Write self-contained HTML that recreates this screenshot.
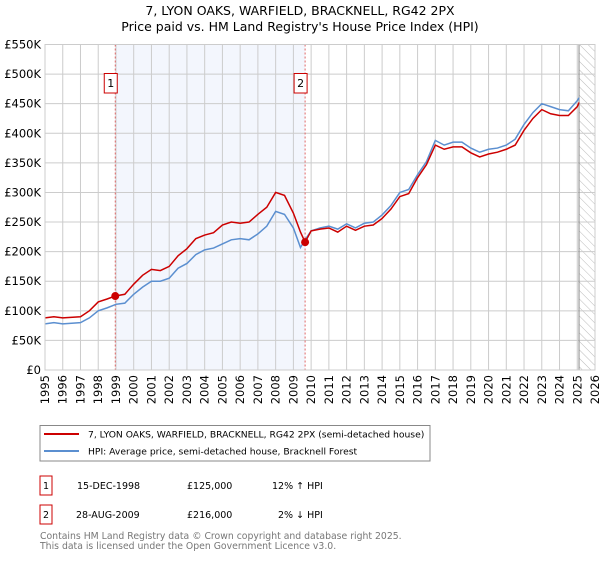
<!DOCTYPE html>
<html><head><meta charset="utf-8"><style>
body{margin:0;background:#fff;font-family:"Liberation Sans","DejaVu Sans",sans-serif;}
svg text{font-family:"DejaVu Sans","Liberation Sans",sans-serif;}
</style></head><body>
<svg id="chart" width="600" height="560" xmlns="http://www.w3.org/2000/svg">
<defs><pattern id="hatch" width="6" height="6" patternUnits="userSpaceOnUse" patternTransform="rotate(-45)"><line x1="0" y1="0" x2="0" y2="6" stroke="#bbb" stroke-width="1"/></pattern></defs>
<text x="300" y="15" text-anchor="middle" font-size="12.5" fill="#000">7, LYON OAKS, WARFIELD, BRACKNELL, RG42 2PX</text>
<text x="300" y="31" text-anchor="middle" font-size="12.5" fill="#000">Price paid vs. HM Land Registry's House Price Index (HPI)</text>
<g id="plot"></g>
<rect x="40" y="425.5" width="390" height="35.5" fill="#fff" stroke="#888"/>
<line x1="44" y1="434" x2="79" y2="434" stroke="#cc0000" stroke-width="2"/>
<text x="88" y="437.5" font-size="9.2">7, LYON OAKS, WARFIELD, BRACKNELL, RG42 2PX (semi-detached house)</text>
<line x1="44" y1="451" x2="79" y2="451" stroke="#5b8fd0" stroke-width="2"/>
<text x="88" y="454.5" font-size="9.2">HPI: Average price, semi-detached house, Bracknell Forest</text>
<g font-size="9.5">
<rect x="40" y="476" width="12" height="19" fill="#fff" stroke="#cc0000"/>
<text x="46" y="489" text-anchor="middle">1</text>
<text x="77" y="489">15-DEC-1998</text>
<text x="187" y="489">£125,000</text>
<text x="272" y="489">12% ↑ HPI</text>
<rect x="40" y="505" width="12" height="19" fill="#fff" stroke="#cc0000"/>
<text x="46" y="518" text-anchor="middle">2</text>
<text x="76" y="518">28-AUG-2009</text>
<text x="187" y="518">£216,000</text>
<text x="278" y="518">2% ↓ HPI</text>
</g>
<text x="40" y="539" font-size="9.3" fill="#777">Contains HM Land Registry data © Crown copyright and database right 2025.</text>
<text x="40" y="549" font-size="9.3" fill="#777">This data is licensed under the Open Government Licence v3.0.</text>
</svg>
<script>
const yTicks=[0,50,100,150,200,250,300,350,400,450,500,550];
const yTickLabels=["£0","£50K","£100K","£150K","£200K","£250K","£300K","£350K","£400K","£450K","£500K","£550K"];
const xYears=[1995,1996,1997,1998,1999,2000,2001,2002,2003,2004,2005,2006,2007,2008,2009,2010,2011,2012,2013,2014,2015,2016,2017,2018,2019,2020,2021,2022,2023,2024,2025,2026];
const hpiT=[1995,1995.5,1996,1997,1997.5,1998,1998.5,1999,1999.5,2000,2000.5,2001,2001.5,2002,2002.5,2003,2003.5,2004,2004.5,2005,2005.5,2006,2006.5,2007,2007.5,2008,2008.5,2009,2009.4,2009.66,2010,2010.5,2011,2011.5,2012,2012.5,2013,2013.5,2014,2014.5,2015,2015.5,2016,2016.5,2017,2017.5,2018,2018.5,2019,2019.5,2020,2020.5,2021,2021.5,2022,2022.5,2023,2023.5,2024,2024.5,2025,2025.1];
const hpiV=[78,80,78,80,88,100,105,111,113,128,140,150,150,155,172,180,195,203,206,213,220,222,220,230,243,268,263,240,207,220,235,240,243,238,247,240,248,250,262,278,300,305,330,352,388,380,385,385,375,368,373,375,380,390,415,435,450,445,440,438,455,460];
const propT=[1995,1995.5,1996,1997,1997.5,1998,1998.5,1998.96,1999.5,2000,2000.5,2001,2001.5,2002,2002.5,2003,2003.5,2004,2004.5,2005,2005.5,2006,2006.5,2007,2007.5,2008,2008.5,2009,2009.4,2009.66,2010,2010.5,2011,2011.5,2012,2012.5,2013,2013.5,2014,2014.5,2015,2015.5,2016,2016.5,2017,2017.5,2018,2018.5,2019,2019.5,2020,2020.5,2021,2021.5,2022,2022.5,2023,2023.5,2024,2024.5,2025,2025.1];
const propV=[88,90,88,90,100,115,120,125,128,145,160,170,168,175,193,205,222,228,232,245,250,248,250,263,275,300,295,265,233,216,235,238,240,233,243,236,243,245,256,272,293,298,325,347,380,373,377,377,367,360,365,368,373,380,405,425,440,433,430,430,445,452];
const saleT=[1998.96,2009.66];
const saleV=[125,216];
const saleLabels=["1","2"];
const dataEnd=2025.1;

const L=45,R=595,T=44.5,B=370,x0=1995,x1=2026,yMax=550;
const xs=t=>L+(t-x0)/(x1-x0)*(R-L);
const ys=v=>B-v/yMax*(B-T);
const NS="http://www.w3.org/2000/svg";
const g=document.getElementById('plot');
function mk(tag,attrs){const e=document.createElementNS(NS,tag);for(const k in attrs)e.setAttribute(k,attrs[k]);g.appendChild(e);return e;}
let e;
e=mk('rect',{x:xs(saleT[0]),y:T,width:xs(saleT[1])-xs(saleT[0]),height:B-T,fill:'#f3f6fd'});


e=mk('rect',{x:xs(dataEnd),y:T,width:R-xs(dataEnd),height:B-T,fill:'url(#hatch)'});


yTicks.forEach((v,i)=>{
 e=mk('line',{x1:L,x2:R,y1:ys(v),y2:ys(v),stroke:'#ccc','stroke-width':1});
 
 
 e=mk('text',{x:L-4,y:ys(v)+4,'text-anchor':'end','font-size':11.5});
 e.textContent=yTickLabels[i];
 
 
});
xYears.forEach(yr=>{
 e=mk('line',{x1:xs(yr),x2:xs(yr),y1:T,y2:B,stroke:'#ccc','stroke-width':1});
 
 
 const tx=xs(yr)+4,ty=B+5;
 e=mk('text',{x:tx,y:ty,'text-anchor':'end','font-size':11.5,transform:`rotate(-90 ${tx} ${ty})`});
 e.textContent=yr;
 
 
});
e=mk('line',{x1:xs(dataEnd),x2:xs(dataEnd),y1:T,y2:B,stroke:'#888','stroke-width':1});


saleT.forEach((t,i)=>{
 e=mk('line',{x1:xs(t),x2:xs(t),y1:T,y2:B,stroke:'#e06666','stroke-width':1,'stroke-dasharray':'2,2'});
 
 
});
e=mk('polyline',{points:hpiT.map((t,i)=>xs(t)+','+ys(hpiV[i])).join(' '),fill:'none',stroke:'#5b8fd0','stroke-width':1.5});


e=mk('polyline',{points:propT.map((t,i)=>xs(t)+','+ys(propV[i])).join(' '),fill:'none',stroke:'#cc0000','stroke-width':1.5});


saleT.forEach((t,i)=>{
 e=mk('circle',{cx:xs(t),cy:ys(saleV[i]),r:4,fill:'#cc0000'});
 
 
 const bx=xs(t)-11;
 e=mk('rect',{x:bx,y:73.5,width:13,height:19.5,fill:'#fff',stroke:'#cc0000'});
 
 
 e=mk('text',{x:bx+6.5,y:87,'text-anchor':'middle','font-size':11});
 e.textContent=saleLabels[i];
 
 
});
e=mk('rect',{x:L,y:T,width:R-L,height:B-T,fill:'none',stroke:'#ccc'});


</script>
</body></html>
